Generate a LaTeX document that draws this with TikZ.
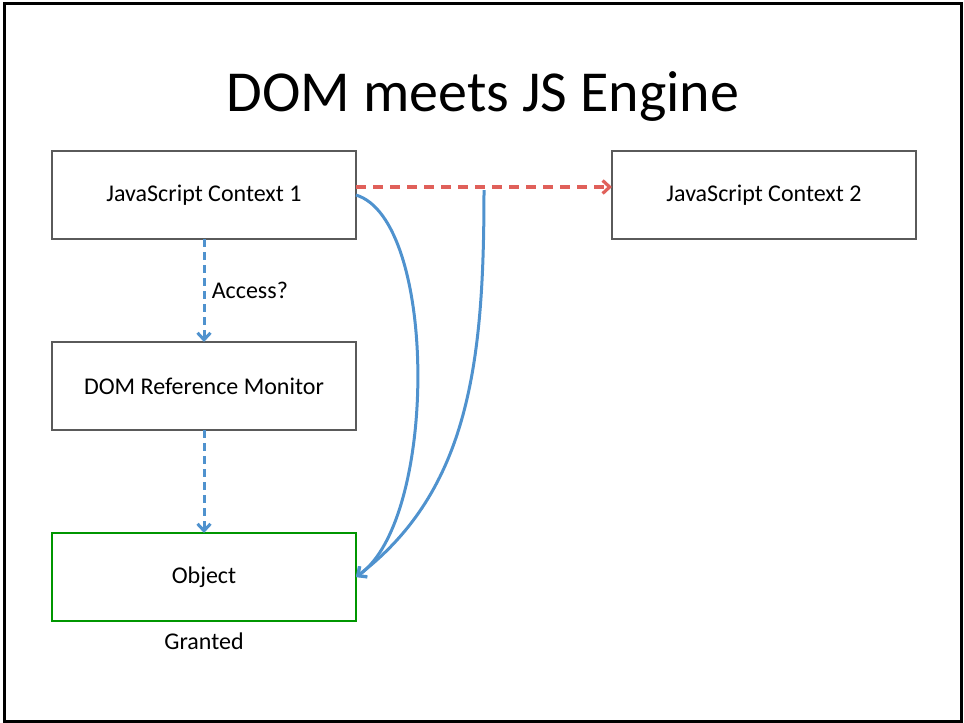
\documentclass[tikz,border=0pt]{standalone}
\usepackage{fontspec}
\setmainfont{Carlito}
\usetikzlibrary{positioning,arrows.meta}
\definecolor{edgeblue}{RGB}{79,146,206}
\definecolor{edgered}{RGB}{224,96,90}
\definecolor{boxgray}{RGB}{90,90,90}
\definecolor{okgreen}{RGB}{0,150,0}

\begin{document}
\begin{tikzpicture}[x=1pt,y=-1pt,
    box/.style={draw=boxgray, line width=1.4pt, minimum width=304pt, minimum height=88pt, inner sep=0pt, outer sep=0pt, font=\fontsize{24}{28}\selectfont},
    granted/.style={box, draw=okgreen, line width=2.8pt},
    tip/.style={-{Straight Barb[length=7pt,width=13pt]}},
    check/.style={edgeblue, line width=3pt, dash pattern=on 8pt off 5pt, tip},
    crossing/.style={edgered, line width=3.2pt, dash pattern=on 10pt off 7pt, tip},
    flow/.style={edgeblue, line width=3pt, tip},
    note/.style={text=black, font=\fontsize{24}{28}\selectfont}]
  \useasboundingbox (0,0) rectangle (964,723);
  \draw[line width=3pt] (4,3) rectangle (961,721);
  \node[font=\fontsize{58}{66}\selectfont] (title) at (483,97) {DOM meets JS Engine};
  \node[box] (ctx1) at (204,195) {JavaScript Context 1};
  \node[box, right=256pt of ctx1] (ctx2) {JavaScript Context 2};
  \node[box, below=103pt of ctx1] (refmon) {DOM Reference Monitor};
  \node[granted, below=103pt of refmon] (obj) {Object};
  \node[note] (grant) at ([yshift=-20pt]obj.south) {Granted};
  \coordinate (split) at (484,190);
  % access check down the left column
  \draw[check] (ctx1) -- node[note, right, xshift=3pt] (ask) {Access?} (refmon);
  \draw[check] (refmon) -- (obj);
  % cross-context access
  \draw[crossing] ([yshift=8pt]ctx1.east) -- ([yshift=8pt]ctx2.west);
  \draw[flow] (ctx1.east) .. controls (438,220) and (438,520) .. (obj.east);
  \draw[flow] (split) .. controls (484,360) and (470,490) .. (obj.east);
\end{tikzpicture}
\end{document}
